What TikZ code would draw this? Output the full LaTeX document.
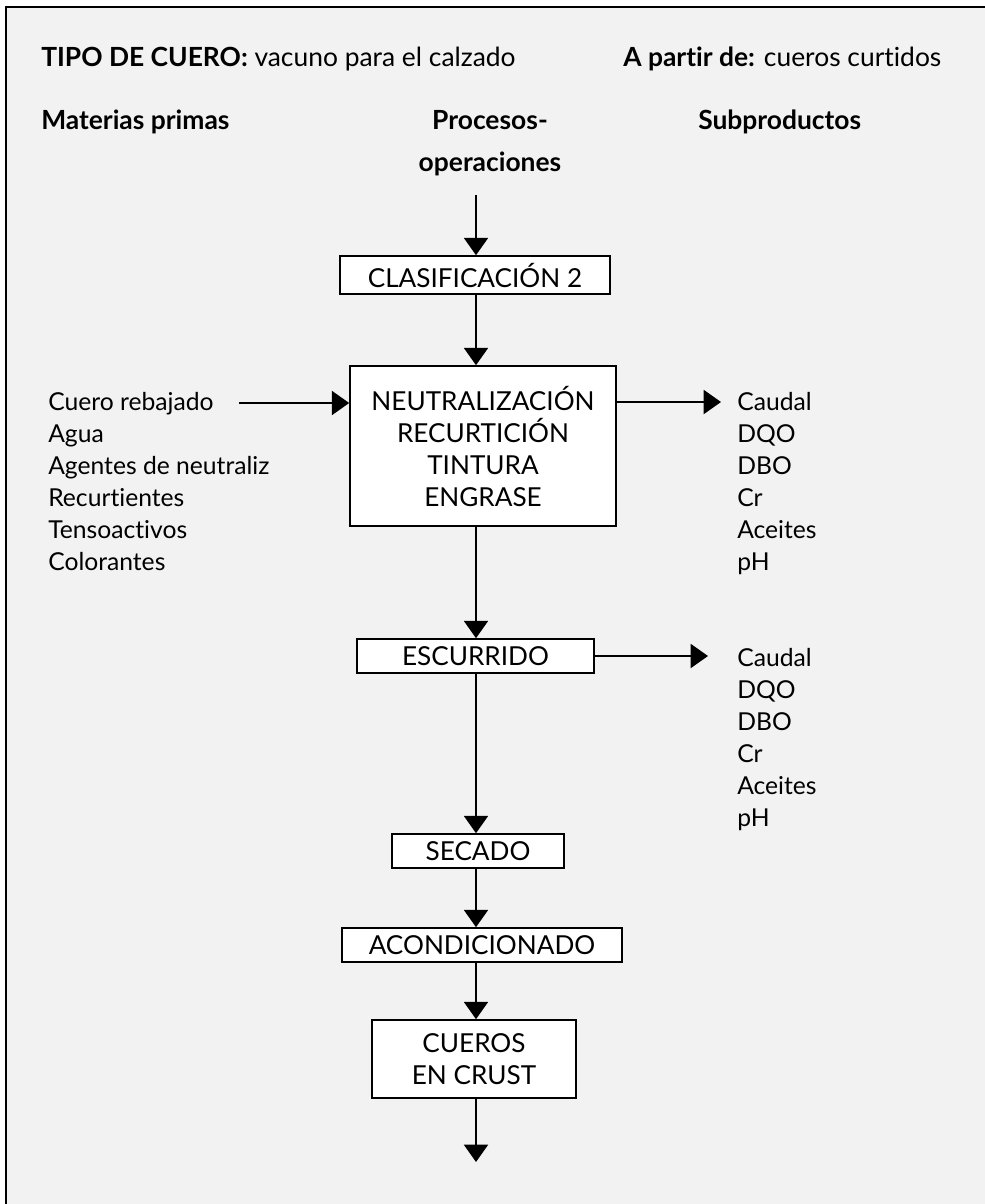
\documentclass[tikz,border=0pt]{standalone}
\usepackage{fontspec}
\setmainfont{Lato}[Ligatures={NoCommon}]
\usetikzlibrary{arrows.meta}
\definecolor{pagegray}{HTML}{F2F2F2}
\tikzset{
  txt/.style={anchor=base west, inner sep=0pt, font=\fontsize{18.5}{22}\selectfont},
  headtxt/.style={anchor=base west, inner sep=0pt, font=\fontsize{19.8}{22}\selectfont},
  boxtxt/.style={font=\fontsize{19.6}{24}\selectfont},
  procbox/.style={draw=black, line width=1.2pt, fill=white, inner sep=0pt, align=center, boxtxt},
  arr/.style={line width=1.5pt, -{Triangle[width=18pt,length=13pt]}},
}
\begin{document}
\begin{tikzpicture}[x=0.75pt, y=-0.75pt]
\useasboundingbox (0,0) rectangle (985,1204);
\fill[white] (0,0) rectangle (985,1204);
\fill[pagegray] (6,7) rectangle (985,1204);
\draw[line width=1.5pt] (6,1204) -- (6,7) -- (985,7);

% headers
\node[headtxt] (tipo) at (41,66) {\textbf{TIPO DE CUERO:} vacuno para el calzado};
\node[headtxt] (apartir) at (623,66) {\textbf{A partir de:} cueros curtidos};
\node[headtxt] (mat) at (41,129) {\textbf{Materias primas}};
\node[headtxt, anchor=base] (proc1) at (490,129) {\textbf{Procesos-}};
\node[headtxt, anchor=base] (proc2) at (490,171) {\textbf{operaciones}};
\node[headtxt] (sub) at (698,129) {\textbf{Subproductos}};

% process boxes
\node[procbox, minimum width=270*0.75pt, minimum height=38*0.75pt] (clas) at (475,275) {CLASIFICACIÓN 2};
\node[procbox, minimum width=266*0.75pt, minimum height=160*0.75pt] (neut) at (483,446)
  {NEUTRALIZACIÓN\\RECURTICIÓN\\TINTURA\\ENGRASE};
\node[procbox, minimum width=237*0.75pt, minimum height=34*0.75pt] (escu) at (475.5,656) {ESCURRIDO};
\node[procbox, minimum width=172*0.75pt, minimum height=34*0.75pt] (seca) at (478,851) {SECADO};
\node[procbox, minimum width=280*0.75pt, minimum height=34*0.75pt] (acon) at (482,945) {ACONDICIONADO};
\node[procbox, minimum width=204*0.75pt, minimum height=78*0.75pt] (crust) at (474,1059) {CUEROS\\EN CRUST};

% lists
\foreach \t [count=\i] in {Cuero rebajado, Agua, Agentes de neutraliz, Recurtientes, Tensoactivos, Colorantes}
  \node[txt] (in\i) at (48,378+32*\i) {\t};
\foreach \t [count=\i] in {Caudal, DQO, DBO, Cr, Aceites, pH}
  \node[txt] (outa\i) at (737,378+32*\i) {\t};
\foreach \t [count=\i] in {Caudal, DQO, DBO, Cr, Aceites, pH}
  \node[txt] (outb\i) at (737,634+32*\i) {\t};

% connectors
\coordinate (top) at (476,195);
\coordinate (bottom) at (476,1162);
\coordinate (instart) at (239,403);
\coordinate (outend1) at (721,402);
\coordinate (outend2) at (708,656);

\draw[arr] (top) -- (top |- clas.north);
\draw[arr] (top |- clas.south) -- (top |- neut.north);
\draw[arr] (top |- neut.south) -- (top |- escu.north);
\draw[arr] (top |- escu.south) -- (top |- seca.north);
\draw[arr] (top |- seca.south) -- (top |- acon.north);
\draw[arr] (top |- acon.south) -- (top |- crust.north);
\draw[arr] (top |- crust.south) -- (bottom);
\draw[arr] (instart) -- (instart -| neut.west);
\draw[arr] (outend1 -| neut.east) -- (outend1);
\draw[arr] (outend2 -| escu.east) -- (outend2);
\end{tikzpicture}
\end{document}
